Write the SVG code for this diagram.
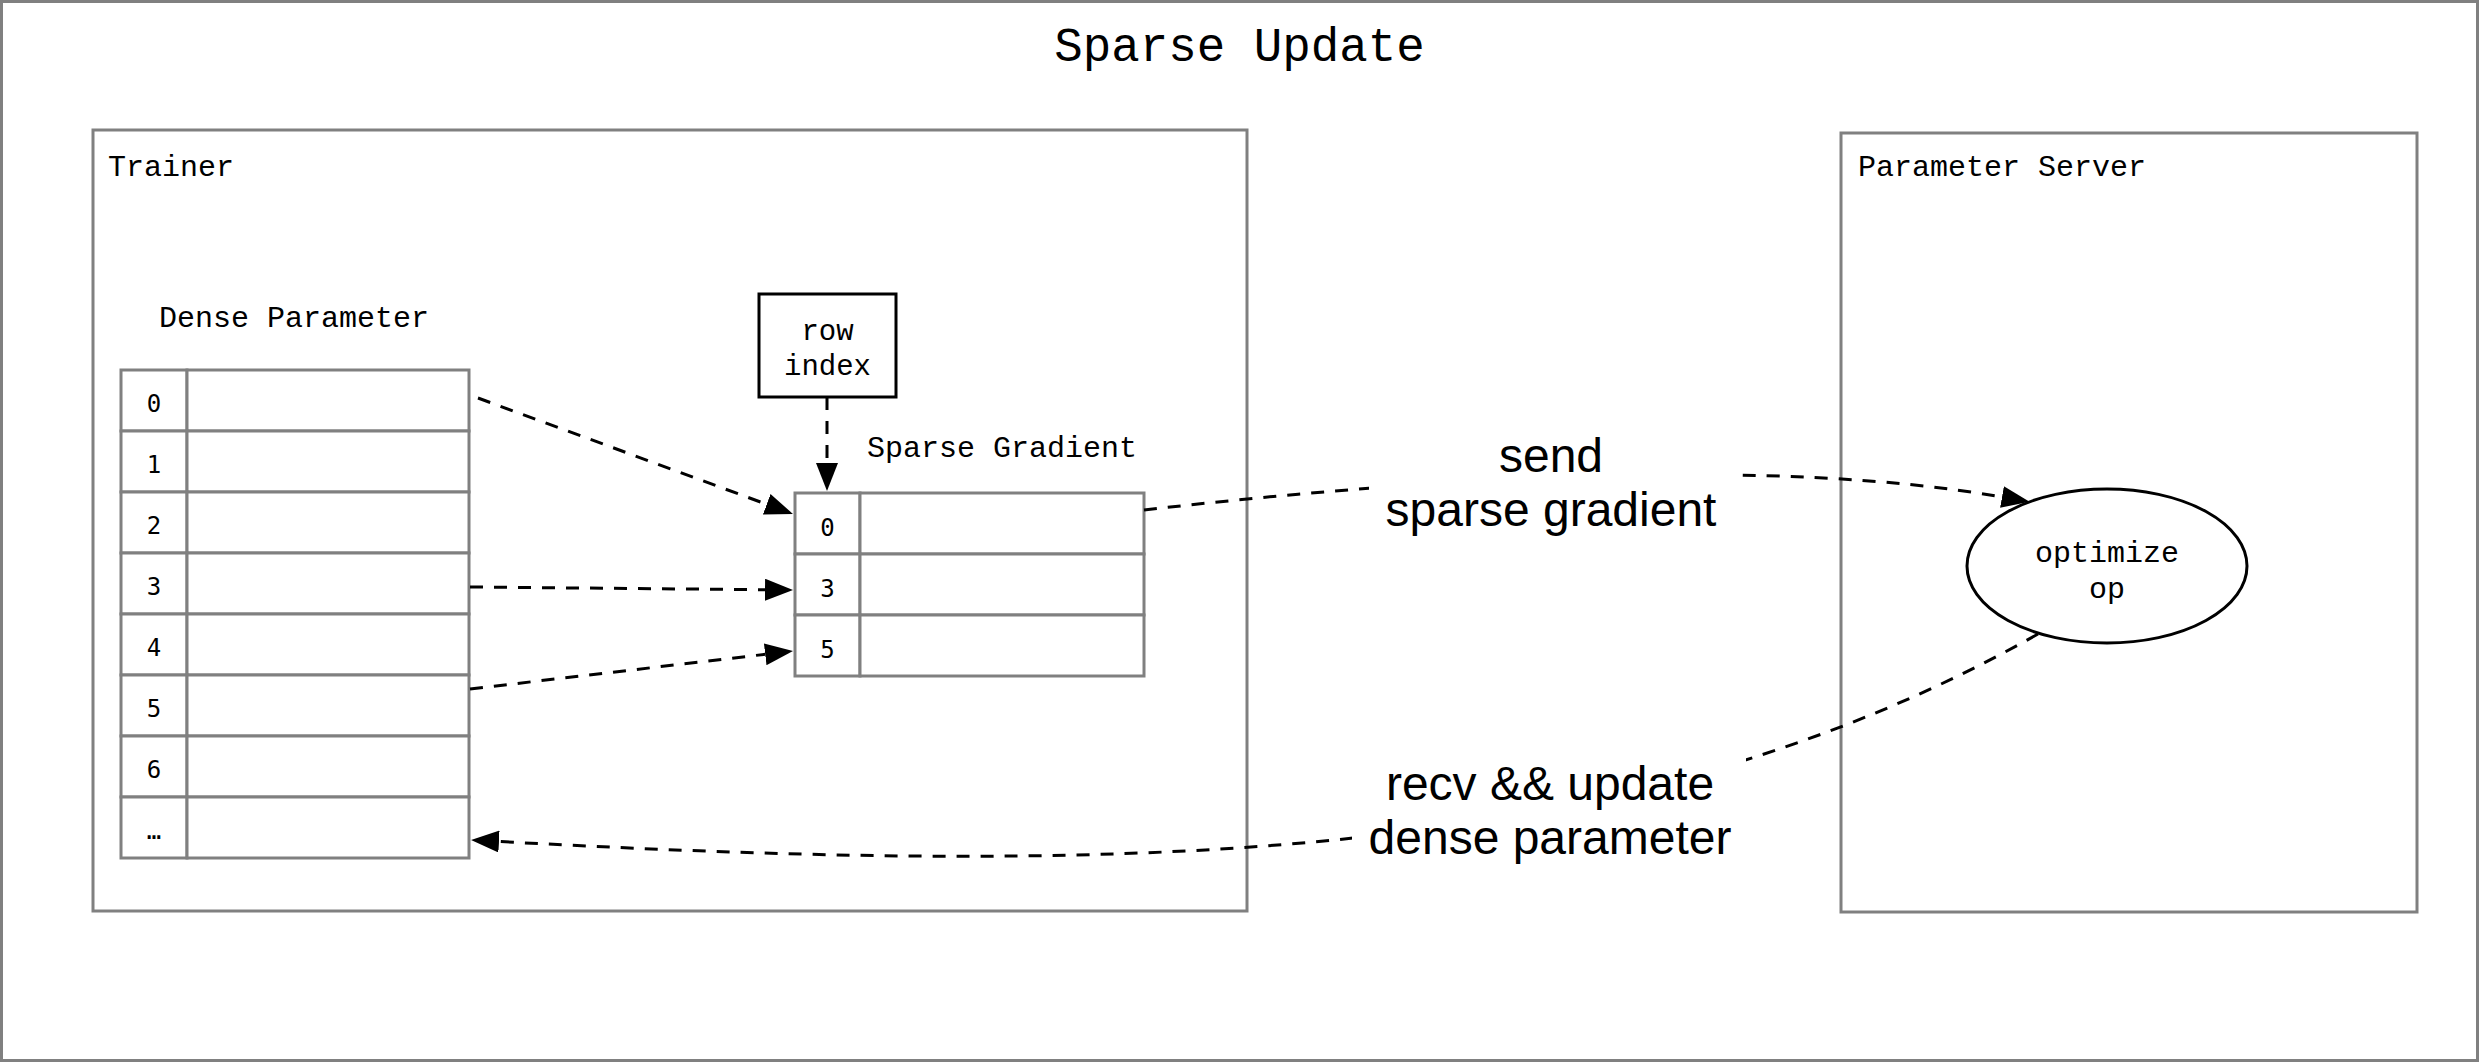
<svg xmlns="http://www.w3.org/2000/svg" width="2479" height="1062" viewBox="0 0 2479 1062">
  <style>
    .frame { fill: #ffffff; stroke: #808080; stroke-width: 3; }
    .cell { fill: #ffffff; stroke: #808080; stroke-width: 3; }
    .mono { font-family: "Liberation Mono", "Courier New", monospace; fill: #000; }
    .idx { font-family: "DejaVu Sans Mono", "Liberation Mono", monospace; font-size: 24px; fill: #000; text-anchor: middle; }
    .lbl { font-family: "Liberation Sans", Arial, sans-serif; font-size: 48px; fill: #000; text-anchor: middle; }
    .edge { fill: none; stroke: #000; stroke-width: 3; stroke-dasharray: 13 11; }
  </style>
  <defs>
    <marker id="arrow" markerWidth="28" markerHeight="22" refX="0" refY="11" orient="auto" markerUnits="userSpaceOnUse">
      <path d="M0,0 L28,11 L0,22 Z" fill="#000"/>
    </marker>
  </defs>
  <rect width="2479" height="1062" fill="#ffffff"/>

  <g id="outer-frame">
    <rect class="frame" x="1.5" y="1.5" width="2476" height="1059"/>
    <text class="mono" x="1239.5" y="61" font-size="47.5" text-anchor="middle">Sparse Update</text>
  </g>

  <g id="trainer">
    <rect class="frame" x="93" y="130" width="1154" height="781"/>
    <text class="mono" x="108" y="176" font-size="30">Trainer</text>
  </g>

  <g id="parameter-server">
    <rect class="frame" x="1841" y="133" width="576" height="779"/>
    <text class="mono" x="1858" y="176" font-size="30">Parameter Server</text>
  </g>

  <g id="dense-parameter">
    <text class="mono" x="159" y="327" font-size="30">Dense Parameter</text>
    <rect class="cell" x="121" y="370" width="66" height="61"/>
    <rect class="cell" x="187" y="370" width="282" height="61"/>
    <rect class="cell" x="121" y="431" width="66" height="61"/>
    <rect class="cell" x="187" y="431" width="282" height="61"/>
    <rect class="cell" x="121" y="492" width="66" height="61"/>
    <rect class="cell" x="187" y="492" width="282" height="61"/>
    <rect class="cell" x="121" y="553" width="66" height="61"/>
    <rect class="cell" x="187" y="553" width="282" height="61"/>
    <rect class="cell" x="121" y="614" width="66" height="61"/>
    <rect class="cell" x="187" y="614" width="282" height="61"/>
    <rect class="cell" x="121" y="675" width="66" height="61"/>
    <rect class="cell" x="187" y="675" width="282" height="61"/>
    <rect class="cell" x="121" y="736" width="66" height="61"/>
    <rect class="cell" x="187" y="736" width="282" height="61"/>
    <rect class="cell" x="121" y="797" width="66" height="61"/>
    <rect class="cell" x="187" y="797" width="282" height="61"/>
    <text class="idx" x="154" y="412">0</text>
    <text class="idx" x="154" y="473">1</text>
    <text class="idx" x="154" y="534">2</text>
    <text class="idx" x="154" y="595">3</text>
    <text class="idx" x="154" y="656">4</text>
    <text class="idx" x="154" y="717">5</text>
    <text class="idx" x="154" y="778">6</text>
    <text class="idx" x="154" y="839">…</text>
  </g>

  <g id="row-index">
    <rect x="759" y="294" width="137" height="103" fill="#ffffff" stroke="#000" stroke-width="3"/>
    <text class="mono" x="827.5" y="340" font-size="29" text-anchor="middle">row</text>
    <text class="mono" x="827.5" y="375" font-size="29" text-anchor="middle">index</text>
  </g>

  <g id="sparse-gradient">
    <text class="mono" x="867" y="457" font-size="30">Sparse Gradient</text>
    <rect class="cell" x="795" y="493" width="65" height="61"/>
    <rect class="cell" x="860" y="493" width="284" height="61"/>
    <rect class="cell" x="795" y="554" width="65" height="61"/>
    <rect class="cell" x="860" y="554" width="284" height="61"/>
    <rect class="cell" x="795" y="615" width="65" height="61"/>
    <rect class="cell" x="860" y="615" width="284" height="61"/>
    <text class="idx" x="827.5" y="536">0</text>
    <text class="idx" x="827.5" y="597">3</text>
    <text class="idx" x="827.5" y="658">5</text>
  </g>

  <g id="optimize-op">
    <ellipse cx="2107" cy="566" rx="140" ry="77" fill="#ffffff" stroke="#000" stroke-width="3"/>
    <text class="mono" x="2107" y="562" font-size="30" text-anchor="middle">optimize</text>
    <text class="mono" x="2107" y="598" font-size="30" text-anchor="middle">op</text>
  </g>

  <g id="connectors">
    <path class="edge" d="M478,398 L766.7,504.3" marker-end="url(#arrow)"/>
    <path class="edge" d="M470,587 L765,589.7" marker-end="url(#arrow)"/>
    <path class="edge" d="M470,689 L765.2,654.3" marker-end="url(#arrow)"/>
    <path class="edge" d="M827,397 L827,463" marker-end="url(#arrow)"/>
    <path class="edge" d="M1144,510 C1450,475 1780,458 2002,497" marker-end="url(#arrow)"/>
    <path class="edge" d="M2038,634 C1637,860 1171,878 499,841.5" marker-end="url(#arrow)"/>
  </g>

  <g id="edge-labels">
    <rect x="1369" y="428" width="370" height="116" fill="#ffffff"/>
    <text class="lbl" x="1551" y="472">send</text>
    <text class="lbl" x="1551" y="526">sparse gradient</text>
    <rect x="1352" y="754" width="394" height="116" fill="#ffffff"/>
    <text class="lbl" x="1550" y="800">recv &amp;&amp; update</text>
    <text class="lbl" x="1550" y="854">dense parameter</text>
  </g>
</svg>
